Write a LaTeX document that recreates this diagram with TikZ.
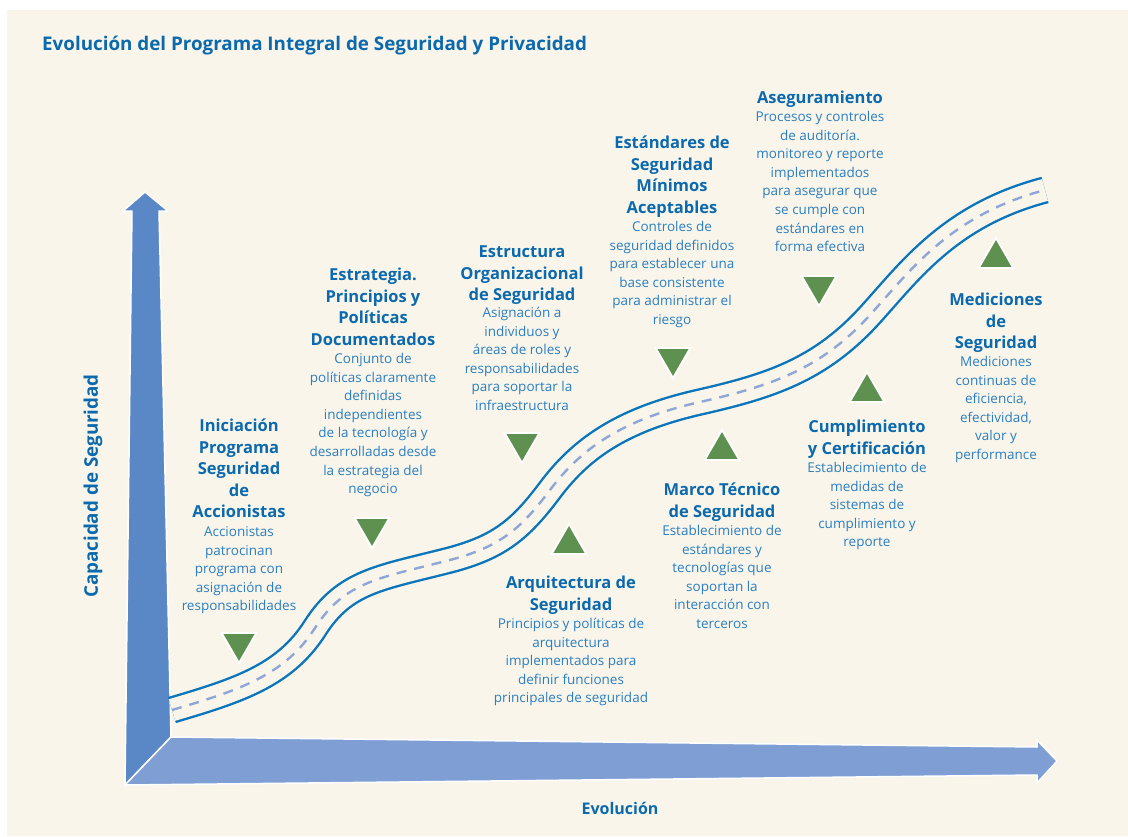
\documentclass[tikz,border=0pt]{standalone}
\usepackage{fontspec}
\setmainfont{Open Sans}
\usetikzlibrary{shapes.geometric}
\definecolor{crema}{HTML}{F9F5EA}
\definecolor{azulTit}{HTML}{0B69AE}
\definecolor{azulTxt}{HTML}{2A7EC1}
\definecolor{ejeV}{HTML}{5A87C6}
\definecolor{ejeH}{HTML}{7F9FD4}
\definecolor{camino}{HTML}{0A75BB}
\definecolor{guion}{HTML}{8FA7D6}
\definecolor{verde}{HTML}{5E9150}

\begin{document}
\begin{tikzpicture}[x=1pt, y=-1pt,
    cabeza/.style={font=\fontsize{16.5}{21.5}\selectfont\bfseries, text=azulTit, align=center, inner sep=0pt, anchor=base},
    texto/.style={font=\fontsize{13.5}{18.6}\selectfont, text=azulTxt, align=center, inner sep=0pt, anchor=base},
    eje/.style={font=\fontsize{18.8}{22}\selectfont\bfseries, text=azulTit, inner sep=0pt},
    bajada/.style={regular polygon, regular polygon sides=3, shape border rotate=180, minimum size=40pt, inner sep=0pt, fill=verde, draw=white, line width=1.8pt},
    subida/.style={regular polygon, regular polygon sides=3, minimum size=40pt, inner sep=0pt, fill=verde, draw=white, line width=1.8pt}]
    % Fondo
    \useasboundingbox (0,0) rectangle (1128,836);
    \fill[white] (0,0) rectangle (1128,836);
    \fill[crema] (7,10) rectangle (1128,836);
    \node[eje, anchor=base west] (titulo) at (42,50) {Evolución del Programa Integral de Seguridad y Privacidad};
    % Ejes
    \draw[white, line width=1.5pt, line join=round, fill=ejeV] (125,785) -- (132,211) -- (123,211) -- (145,192) -- (168,211) -- (159,211) -- (171,737) -- cycle;
    \draw[white, line width=1.5pt, line join=round, fill=ejeH] (171,737) -- (1037,747) -- (1037,740) -- (1057,761) -- (1037,783) -- (1037,775) -- (125,785) -- cycle;
    \node[eje, rotate=90] (ejeY) at (93,486) {Capacidad de Seguridad};
    \node[eje, font=\fontsize{16}{20}\selectfont\bfseries, anchor=base] (ejeX) at (620,814) {Evolución};
    % Camino
    \draw[camino, line width=2.4pt, double=crema, double distance=22.5pt] (172,710) .. controls (240,690) and (285,675) .. (315,628) .. controls (345,581) and (380,578) .. (450,560) .. controls (499,547) and (520,530) .. (550,490) .. controls (580,450) and (620,420) .. (700,402) .. controls (770,386) and (820,370) .. (870,315) .. controls (910,271) and (950,215) .. (1045,190);
    \draw[guion, line width=2.4pt, dash pattern=on 10pt off 8pt] (172,710) .. controls (240,690) and (285,675) .. (315,628) .. controls (345,581) and (380,578) .. (450,560) .. controls (499,547) and (520,530) .. (550,490) .. controls (580,450) and (620,420) .. (700,402) .. controls (770,386) and (820,370) .. (870,315) .. controls (910,271) and (950,215) .. (1045,190);
    % Triangulos
    \node[bajada] (triIni) at (239,643) {};
    \node[bajada] (triEst) at (372,528) {};
    \node[bajada] (triOrg) at (522,443) {};
    \node[bajada] (triMin) at (673,358) {};
    \node[bajada] (triAse) at (819,286) {};
    \node[subida] (triArq) at (569,544) {};
    \node[subida] (triMar) at (722,450) {};
    \node[subida] (triCum) at (867,392) {};
    \node[subida] (triMed) at (996,258) {};
    % Etapas (base = ultima linea)
    \node[cabeza] (iniTit) at (239,517.5) {Iniciación\\Programa\\Seguridad\\de\\Accionistas};
    \node[texto] (iniTxt) at (239,610.9) {Accionistas\\patrocinan\\programa con\\asignación de\\responsabilidades};
    \node[cabeza] (estTit) at (373,345) {Estrategia.\\Principios y\\Políticas\\Documentados};
    \node[texto] (estTxt) at (373,493.7) {Conjunto de\\políticas claramente\\definidas\\independientes\\de la tecnología y\\desarrolladas desde\\la estrategia del\\negocio};
    \node[cabeza] (orgTit) at (522,300.5) {Estructura\\Organizacional\\de Seguridad};
    \node[texto] (orgTxt) at (522,410.5) {Asignación a\\individuos y\\áreas de roles y\\responsabilidades\\para soportar la\\infraestructura};
    \node[cabeza] (minTit) at (672,213) {Estándares de\\Seguridad\\Mínimos\\Aceptables};
    \node[texto] (minTxt) at (672,324.5) {Controles de\\seguridad definidos\\para establecer una\\base consistente\\para administrar el\\riesgo};
    \node[cabeza] (aseTit) at (820,103.5) {Aseguramiento};
    \node[texto] (aseTxt) at (820,251.7) {Procesos y controles\\de auditoría.\\monitoreo y reporte\\implementados\\para asegurar que\\se cumple con\\estándares en\\forma efectiva};
    \node[cabeza] (medTit) at (996,348.5) {Mediciones\\de\\Seguridad};
    \node[texto] (medTxt) at (996,459.5) {Mediciones\\continuas de\\eficiencia,\\efectividad,\\valor y\\performance};
    \node[cabeza] (cumTit) at (867,454) {Cumplimiento\\y Certificación};
    \node[texto] (cumTxt) at (867,546.9) {Establecimiento de\\medidas de\\sistemas de\\cumplimiento y\\reporte};
    \node[cabeza] (marTit) at (722,517) {Marco Técnico\\de Seguridad};
    \node[texto] (marTxt) at (722,628.5) {Establecimiento de\\estándares y\\tecnologías que\\soportan la\\interacción con\\terceros};
    \node[cabeza] (arqTit) at (571,610) {Arquitectura de\\Seguridad};
    \node[texto] (arqTxt) at (571,702.9) {Principios y políticas de\\arquitectura\\implementados para\\definir funciones\\principales de seguridad};
\end{tikzpicture}
\end{document}
